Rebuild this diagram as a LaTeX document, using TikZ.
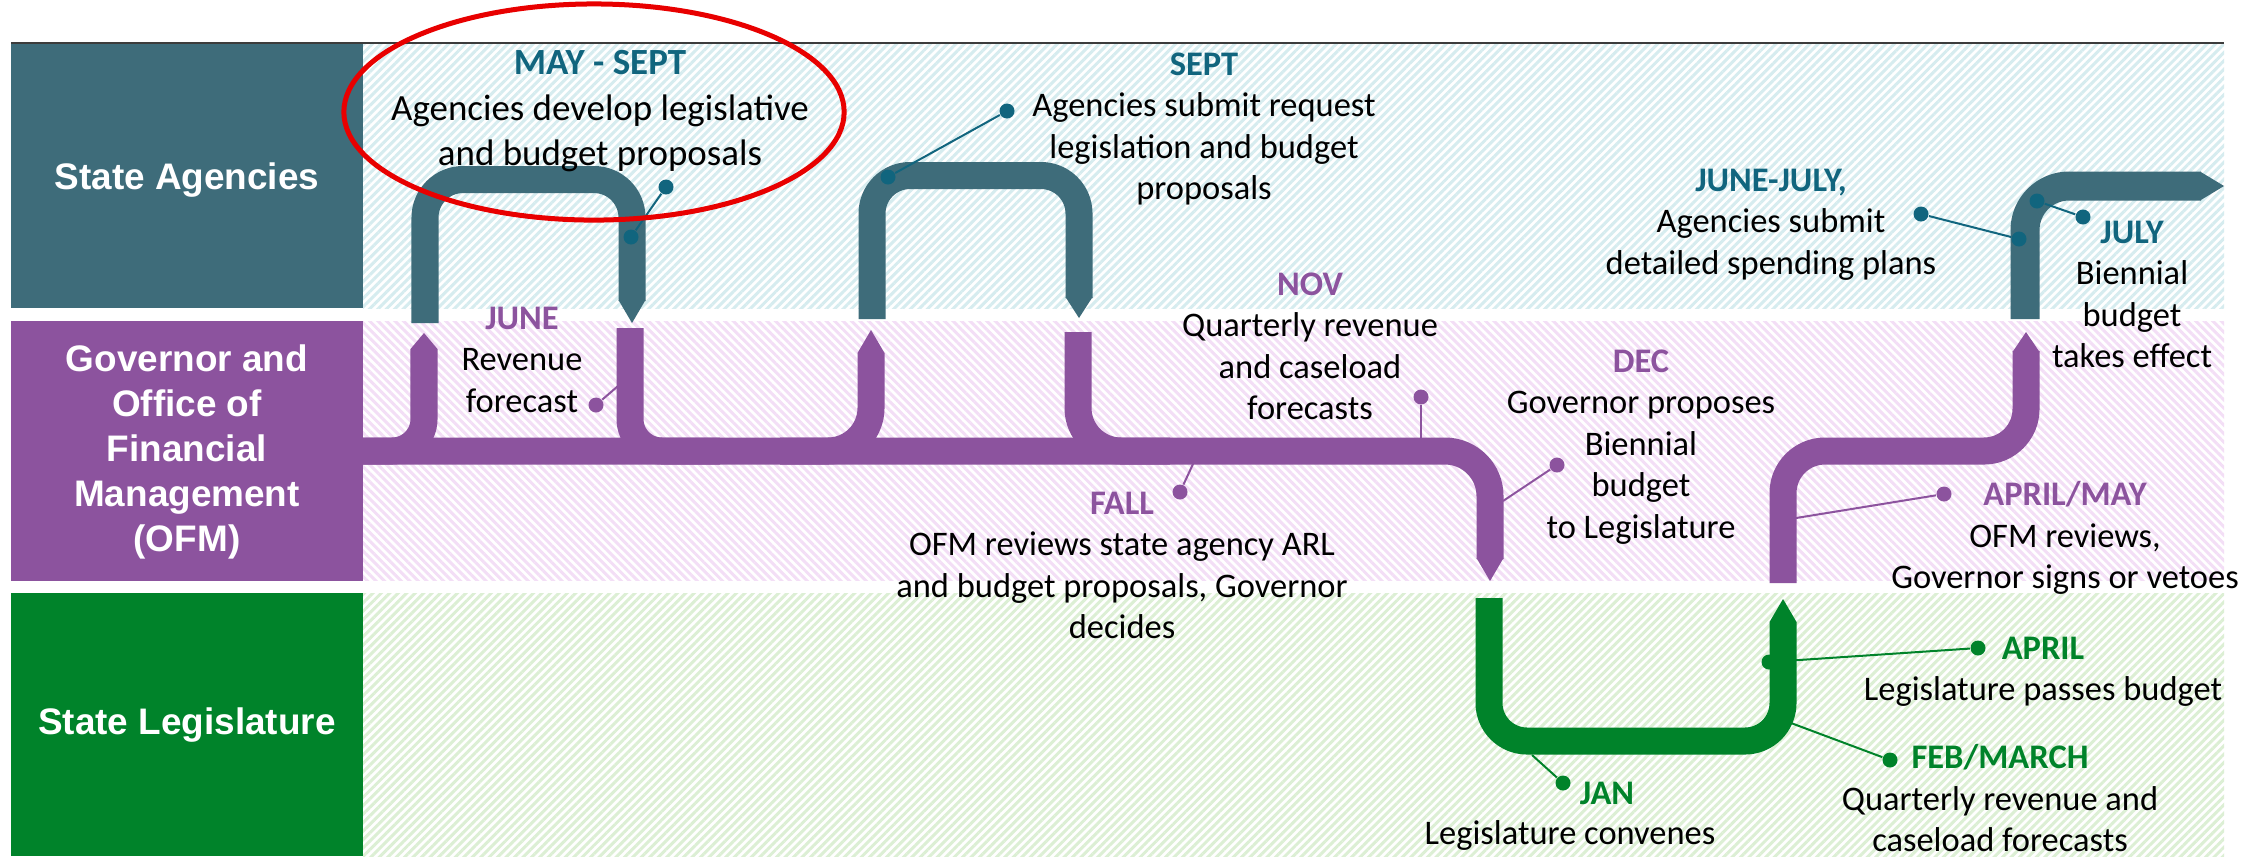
\documentclass[tikz,border=0pt]{standalone}
\usepackage{fontspec}
\setmainfont{Carlito}
\newfontfamily\lanefont{Liberation Sans}
\usetikzlibrary{patterns.meta}
\definecolor{tealP}{HTML}{3E6C7A}
\definecolor{tealT}{HTML}{11657E}
\definecolor{purp}{HTML}{8C539E}
\definecolor{grn}{HTML}{00832A}
\definecolor{hatchA}{HTML}{D6ECEF}
\definecolor{hatchB}{HTML}{F3DEF6}
\definecolor{hatchC}{HTML}{DCEFD4}
\definecolor{topline}{HTML}{3C3C3C}
\definecolor{ringred}{HTML}{E80000}
\begin{document}
\begin{tikzpicture}[x=0.01cm,y=-0.01cm,
  pipe/.style={line width=0.27cm, line cap=butt, line join=round},
  lanelabel/.style={font=\lanefont\bfseries\fontsize{10.5}{12.8}\selectfont, text=white, align=center, inner sep=0},
  body/.style={font=\fontsize{9.8}{11.8}\selectfont, align=center, anchor=north, inner sep=0, text=black},
  dotT/.style={circle, fill=tealT, inner sep=0, minimum size=0.15cm},
  dotP/.style={circle, fill=purp, inner sep=0, minimum size=0.15cm},
  dotG/.style={circle, fill=grn, inner sep=0, minimum size=0.15cm},
  pinT/.style={draw=tealT, line width=0.02cm},
  pinP/.style={draw=purp, line width=0.02cm},
  pinG/.style={draw=grn, line width=0.02cm},
]
\useasboundingbox (0,0) rectangle (2264,856);
\fill[white] (0,0) rectangle (2264,856);

% lane backgrounds
\fill[pattern={Lines[angle=45,distance=1.7pt,line width=0.85pt]}, pattern color=hatchA] (363,44) rectangle (2224,308);
\fill[pattern={Lines[angle=-45,distance=1.7pt,line width=0.85pt]}, pattern color=hatchB] (363,321) rectangle (2224,580);
\fill[pattern={Lines[angle=45,distance=1.7pt,line width=0.85pt]}, pattern color=hatchC] (363,593) rectangle (2224,856);

% lane boxes
\fill[tealP] (11,44) rectangle (363,308);
\fill[purp] (11,321) rectangle (363,581);
\fill[grn] (11,593) rectangle (363,856);
\draw[topline, line width=0.025cm] (11,43) -- (2224,43);

\node[lanelabel] (lA) at (187,180) {State Agencies};
\node[lanelabel] (lB) at (187,452) {Governor and\\Office of\\Financial\\Management\\(OFM)};
\node[lanelabel] (lC) at (187,725) {State Legislature};

% teal arches
\draw[pipe, tealP, rounded corners=0.38cm] (425,323) -- (425,179.5) -- (632,179.5) -- (632,301);
\fill[tealP] (618.5,300) -- (645.5,300) -- (632,323) -- cycle;
\draw[pipe, tealP, rounded corners=0.38cm] (872,319) -- (872,175.5) -- (1079,175.5) -- (1079,298);
\fill[tealP] (1065.5,297) -- (1092.5,297) -- (1079,318) -- cycle;
\draw[pipe, tealP, line width=0.29cm, rounded corners=0.44cm] (2025,319) -- (2025,186) -- (2201,186);
\fill[tealP] (2200,171.5) -- (2200,200.5) -- (2224,186) -- cycle;

% purple main flow
\draw[pipe, purp, rounded corners=0.45cm] (363,451) -- (1490,451) -- (1490,559);
\fill[purp] (1476.5,558) -- (1503.5,558) -- (1490,581) -- cycle;
\draw[pipe, purp, rounded corners=0.32cm] (363,451) -- (424,451) -- (424,349);
\fill[purp] (410.5,349) -- (437.5,349) -- (424,333) -- cycle;
\draw[pipe, purp, rounded corners=0.32cm] (630,328) -- (630,451) -- (720,451);
\draw[pipe, purp, rounded corners=0.43cm] (780,451) -- (871,451) -- (871,353);
\fill[purp] (857.5,353) -- (884.5,353) -- (871,330) -- cycle;
\draw[pipe, purp, rounded corners=0.43cm] (1078,332) -- (1078,451) -- (1170,451);
\draw[pipe, purp, rounded corners=0.42cm] (1783,583) -- (1783,451) -- (2026,451) -- (2026,351);
\fill[purp] (2012.5,352) -- (2039.5,352) -- (2026,332) -- cycle;

% green U
\draw[pipe, grn, rounded corners=0.38cm] (1489,598) -- (1489,741) -- (1783,741) -- (1783,622);
\fill[grn] (1769.5,622) -- (1796.5,622) -- (1783,599) -- cycle;

% pins
\node[dotT] (pA1) at (631,237) {};
\node[dotT] (pA2) at (666,187) {};
\draw[pinT] (pA1) -- (pA2);
\node[dotT] (pS1) at (888,177) {};
\node[dotT] (pS2) at (1007,111) {};
\draw[pinT] (pS1) -- (pS2);
\node[dotT] (pJJ1) at (2019,239) {};
\node[dotT] (pJJ2) at (1921,214) {};
\draw[pinT] (pJJ1) -- (pJJ2);
\node[dotT] (pJl1) at (2037,201) {};
\node[dotT] (pJl2) at (2083,217) {};
\draw[pinT] (pJl1) -- (pJl2);

\coordinate (cJune) at (618,386);
\node[dotP] (pJune) at (596,405) {};
\draw[pinP] (pJune) -- (cJune);
\coordinate (cNov) at (1421,440);
\node[dotP] (pNov) at (1421,397) {};
\draw[pinP] (pNov) -- (cNov);
\coordinate (cFall) at (1193,464);
\node[dotP] (pFall) at (1180,492) {};
\draw[pinP] (pFall) -- (cFall);
\coordinate (cDec) at (1503,501);
\node[dotP] (pDec) at (1557,465) {};
\draw[pinP] (pDec) -- (cDec);
\coordinate (cAM) at (1796,518);
\node[dotP] (pAM) at (1944,494) {};
\draw[pinP] (pAM) -- (cAM);

\node[dotG] (pAp1) at (1769,662) {};
\node[dotG] (pAp2) at (1978,648) {};
\draw[pinG] (pAp1) -- (pAp2);
\coordinate (cFeb) at (1791,723);
\node[dotG] (pFeb) at (1890,760) {};
\draw[pinG] (pFeb) -- (cFeb);
\coordinate (cJan) at (1532,755);
\node[dotG] (pJan) at (1563,783) {};
\draw[pinG] (pJan) -- (cJan);

% texts
\node[body, font=\fontsize{10.5}{12.9}\selectfont] (tMay) at (600,50) {{\bfseries\color{tealT}MAY - SEPT}\\Agencies develop legislative\\and budget proposals};
\node[body] (tSept) at (1204,52) {{\bfseries\color{tealT}SEPT}\\Agencies submit request\\legislation and budget\\proposals};
\node[body] (tJune) at (522,306) {{\bfseries\color{purp}JUNE}\\Revenue\\forecast};
\node[body] (tNov) at (1310,272) {{\bfseries\color{purp}NOV}\\Quarterly revenue\\and caseload\\forecasts};
\node[body] (tDec) at (1641,349) {{\bfseries\color{purp}DEC}\\Governor proposes\\Biennial\\budget\\to Legislature};
\node[body] (tFall) at (1122,491) {{\bfseries\color{purp}FALL}\\OFM reviews state agency ARL\\and budget proposals, Governor\\decides};
\node[body] (tJJ) at (1771,168) {{\bfseries\color{tealT}JUNE-JULY,}\\Agencies submit\\detailed spending plans};
\node[body] (tJuly) at (2132,220) {{\bfseries\color{tealT}JULY}\\Biennial\\budget\\takes effect};
\node[body] (tAM) at (2065,481) {{\bfseries\color{purp}APRIL/MAY}\\OFM reviews,\\Governor signs or vetoes};
\node[body] (tApr) at (2043,636) {{\bfseries\color{grn}APRIL}\\Legislature passes budget};
\node[body] (tFeb) at (2000,744) {{\bfseries\color{grn}FEB/MARCH}\\Quarterly revenue and\\caseload forecasts};
\node[body] (tJanH) at (1607,781) {{\bfseries\color{grn}JAN}};
\node[body, anchor=base] (tJanB) at (1570,844) {Legislature convenes};

% highlight ring
\draw[ringred, line width=0.05cm] (594,112) ellipse (2.5cm and 1.08cm);
\end{tikzpicture}
\end{document}
